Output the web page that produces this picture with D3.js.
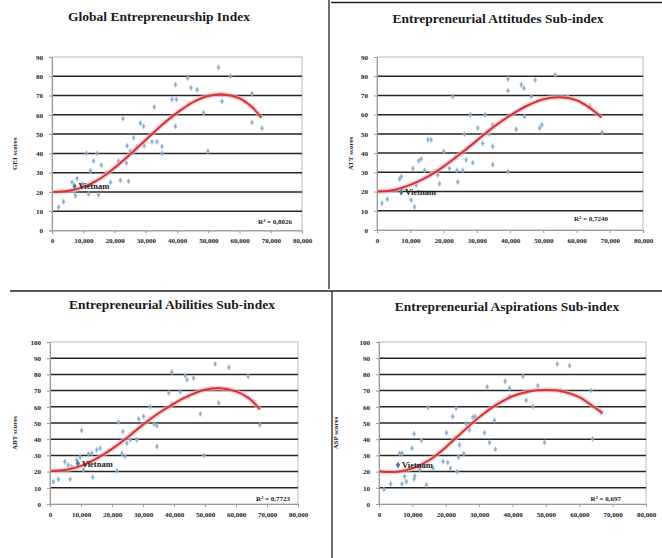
<!DOCTYPE html>
<html><head><meta charset="utf-8">
<script src="https://cdn.jsdelivr.net/npm/d3@7"></script>
<style>
html,body{margin:0;padding:0;background:#fff;}
svg{display:block;}
svg text{font-family:"Liberation Serif","DejaVu Serif",serif;font-weight:bold;}
</style></head>
<body>
<svg id="chart" width="662" height="558"></svg>
<script>
// ---------- DATA ----------
const titles = ["Global Entrepreneurship Index","Entrepreneurial Attitudes Sub-index","Entrepreneurial Abilities Sub-index","Entrepreneurial Aspirations Sub-index"];
const yTitles = ["GEI scores","ATT scores","ABT scores","ASP scores"];
const r2Labels = ["R² = 0,8026","R² = 0,7240","R² = 0,7723","R² = 0,697"];
const xTicks = [0,10000,20000,30000,40000,50000,60000,70000,80000];
const yTicks90 = [0,10,20,30,40,50,60,70,80,90];
const yTicks100 = [0,10,20,30,40,50,60,70,80,90,100];
const highlight = "Vietnam";

// GEI
const gdpGEI = [2100,3700,6400,7100,7500,8000,9600,11000,11700,12300,13300,14400,14900,15800,17600,18700,21300,21900,22700,23800,24000,24500,25000,26100,27200,28300,29300,29500,32000,32700,33600,35200,35200,38400,39500,39500,39800,43400,44500,46400,48500,49900,53300,54400,57100,64000,64000,67200];
const scoreGEI = [12,15,25,20,18,27,24,40,19,31,36,40,18.5,34,30,25,36,26,58,35,44,25.5,41,48,43.5,55.7,54,44,46,64,46,43.6,40,68,75.6,54,68,79,74,73,61,41,84.6,67,80,71,56,53];
const vnGEI = [7200, 23];
const trendXGEI = [500,5000,10000,15000,20000,25000,30000,35000,40000,45000,50000,55000,60000,64000,67000];
const trendYGEI = [20,20.5,22.5,26.5,32.5,39.5,47,54.5,61,66.5,69.8,70.6,68.5,64,58.5];

// ATT
const gdpATT = [1500,3100,6800,7300,7800,10300,10800,11300,11800,12500,13300,14300,15300,16300,16300,18300,18800,20100,21800,22800,23500,24000,24300,25800,26300,26800,28100,28800,30300,31800,32500,33800,34800,34800,34800,39400,39400,39400,41900,43400,44200,44400,46400,47600,48900,49600,53600,57400,64000,67700];
const scoreATT = [13.9,16,26.5,27.8,21.7,15.6,32,12,23.4,36,37,31,47,47,29.5,28.6,24,40.8,32,69.4,37.7,31,25,31,49.8,36.5,60,35,53,45,60,50,54.7,43.4,34,78.5,72.4,30.4,52.4,75.5,73.8,59,69.4,78,53,54.7,80.7,69.4,64.6,50.7];
const vnATT = [7300, 19.6];
const trendXATT = [300,5000,10000,15000,20000,25000,30000,35000,40000,45000,50000,55000,60000,64000,67500];
const trendYATT = [20,20.8,23.5,27.5,33,39.5,46.5,53.5,59.5,64.5,68,69,67.5,63.5,58.5];

// ABT
const gdpABT = [1100,2700,4800,5900,6500,7000,8600,9700,10200,10800,11300,12400,13500,13800,15100,16200,21600,22100,23200,23500,24200,24800,25900,26700,28000,28600,30200,32300,33600,34500,34500,38300,39300,39300,42000,43600,44200,44700,46300,48500,49600,53300,54400,57700,63900,67700];
const scoreABT = [13.8,15.3,26,24,15.3,23,27,29,45.4,21,24,31,31.3,16.5,33.4,34.4,20.6,50.5,31.3,44.7,29.3,37.5,39.6,44,39.6,52.4,54,60,49.3,48.2,35.5,68.5,81.4,61.9,69.3,79.2,76.7,66.4,77.7,55.7,30,86.4,62.3,84.3,78.8,48.9];
const vnABT = [9000, 25];
const trendXABT = [500,5000,10000,15000,20000,25000,30000,35000,40000,45000,50000,55000,60000,64000,67700];
const trendYABT = [20.5,21,23.5,28,34,41,49,56,62,67,70.5,71.5,69.5,65.5,58.5];

// ASP
const gdpASP = [1500,3500,5700,6200,6900,6900,7700,8200,9900,10500,10500,10700,12200,12700,14200,14700,16200,19200,20200,20600,21400,22100,23100,23400,23800,24100,25400,26100,27100,28100,28800,31600,32400,33100,34600,34900,37800,39100,39100,43100,44100,46100,47600,49600,53400,54400,57100,63500,64000,66500];
const scoreASP = [9,12.4,24,31.3,31.3,12.4,17,13.8,34.4,43.3,15.5,17.3,21.4,39.2,11.8,59.6,22,26.2,44,25.6,22,54,59.2,20,28.9,36.5,31,49.5,45.8,53.6,54,44,72.2,38,51.5,33.8,75.7,71.5,66.4,78.8,64,60.2,73,38,86.4,70,85.4,70.1,40.2,56.5];
const vnASP = [5700, 24];
const trendXASP = [300,5000,10000,15000,20000,25000,30000,35000,40000,45000,50000,55000,60000,64000,67000];
const trendYASP = [20,19.8,22,27,35,44.5,53.5,61,66.5,69.5,70.3,69.5,66,60.5,56];

// ---------- DRAW ----------
const svg = d3.select("#chart");

const panels = [
  {gx:gdpGEI, gy:scoreGEI, vn:vnGEI, tx:trendXGEI, ty:trendYGEI, yt:yTicks90,
   L:52, R:302, T:57, B:230.5, titleX:159, titleY:21, ytX:17, r2X:292, r2Y:224},
  {gx:gdpATT, gy:scoreATT, vn:vnATT, tx:trendXATT, ty:trendYATT, yt:yTicks90,
   L:377, R:643, T:57, B:230, titleX:498, titleY:23, ytX:353, r2X:608, r2Y:221},
  {gx:gdpABT, gy:scoreABT, vn:vnABT, tx:trendXABT, ty:trendYABT, yt:yTicks100,
   L:50, R:298, T:342, B:504, titleX:172, titleY:309, ytX:17, r2X:290, r2Y:501},
  {gx:gdpASP, gy:scoreASP, vn:vnASP, tx:trendXASP, ty:trendYASP, yt:yTicks100,
   L:379, R:646, T:342, B:504, titleX:507, titleY:311, ytX:338, r2X:621, r2Y:501}
];

// panel frame lines
const frame = svg.append("g").attr("stroke","#222").attr("stroke-width",1.3);
frame.append("line").attr("x1",329).attr("x2",329).attr("y1",0).attr("y2",289);
frame.append("line").attr("x1",331).attr("x2",662).attr("y1",2.5).attr("y2",2.5);
frame.append("line").attr("x1",10).attr("x2",662).attr("y1",291).attr("y2",291);
frame.append("line").attr("x1",332).attr("x2",332).attr("y1",291).attr("y2",558);

panels.forEach((p,i)=>{
  const yMax = p.yt[p.yt.length-1];
  const x = d3.scaleLinear().domain([0,80000]).range([p.L,p.R]);
  const y = d3.scaleLinear().domain([0,yMax]).range([p.B,p.T]);
  const g = svg.append("g");

  // title
  g.append("text").attr("x",p.titleX).attr("y",p.titleY).attr("text-anchor","middle")
    .attr("font-size",13.5).attr("fill","#1a1a1a").text(titles[i]);

  // plot area
  g.append("rect").attr("x",p.L).attr("y",p.T).attr("width",p.R-p.L).attr("height",p.B-p.T)
    .attr("fill","#fff").attr("stroke","#b8b8b8").attr("stroke-width",1);

  // gridlines
  g.append("g").selectAll("line").data(p.yt.filter(v=>v>0 && v<yMax)).join("line")
    .attr("x1",p.L).attr("x2",p.R).attr("y1",d=>y(d)).attr("y2",d=>y(d))
    .attr("stroke","#262626").attr("stroke-width",1.5);

  // axes
  const xAxis = d3.axisBottom(x).tickValues(xTicks).tickFormat(d=>d===0?"0":d3.format(",")(d)).tickSize(3).tickPadding(5);
  const gx = g.append("g").attr("transform",`translate(0,${p.B})`).call(xAxis);
  gx.attr("font-family",null);
  gx.select(".domain").attr("stroke","#999");
  gx.selectAll(".tick line").attr("stroke","#999");
  gx.selectAll("text").attr("font-size",7).attr("fill","#222");

  const yAxis = d3.axisLeft(y).tickValues(p.yt).tickSize(3).tickPadding(6);
  const gyA = g.append("g").attr("transform",`translate(${p.L},0)`).call(yAxis);
  gyA.attr("font-family",null);
  gyA.select(".domain").attr("stroke","#999");
  gyA.selectAll(".tick line").attr("stroke","#999");
  gyA.selectAll("text").attr("font-size",7).attr("fill","#222");

  // y axis title
  g.append("text").attr("transform",`translate(${p.ytX},${(p.T+p.B)/2+10}) rotate(-90)`)
    .attr("text-anchor","middle").attr("font-size",7).attr("fill","#222").text(yTitles[i]);

  // points
  const pts = p.gx.map((v,k)=>[v,p.gy[k]]);
  g.append("g").selectAll("path").data(pts).join("path")
    .attr("transform",d=>`translate(${x(d[0])},${y(d[1])})`)
    .attr("d",d3.symbol(d3.symbolDiamond,9))
    .attr("fill","#7aa3c6").attr("stroke","#a9c6df").attr("stroke-width",0.6).attr("opacity",0.9);

  // trend line
  const tr = p.tx.map((v,k)=>[v,p.ty[k]]);
  const line = d3.line().x(d=>x(d[0])).y(d=>y(d[1])).curve(d3.curveCatmullRom);
  g.append("path").datum(tr).attr("d",line).attr("fill","none")
    .attr("stroke","#f3b5b5").attr("stroke-width",5).attr("opacity",0.6);
  g.append("path").datum(tr).attr("d",line).attr("fill","none")
    .attr("stroke","#d9303a").attr("stroke-width",2);

  // Vietnam
  g.append("path").attr("transform",`translate(${x(p.vn[0])},${y(p.vn[1])})`)
    .attr("d",d3.symbol(d3.symbolDiamond,14)).attr("fill","#4a78a0");
  g.append("text").attr("x",x(p.vn[0])+4).attr("y",y(p.vn[1])+3)
    .attr("font-size",8.5).attr("fill","#1a1a1a").text(highlight);

  // R2
  g.append("text").attr("x",p.r2X).attr("y",p.r2Y).attr("text-anchor","end")
    .attr("font-size",7).attr("fill","#222").text(r2Labels[i]);
});
</script>
</body></html>
